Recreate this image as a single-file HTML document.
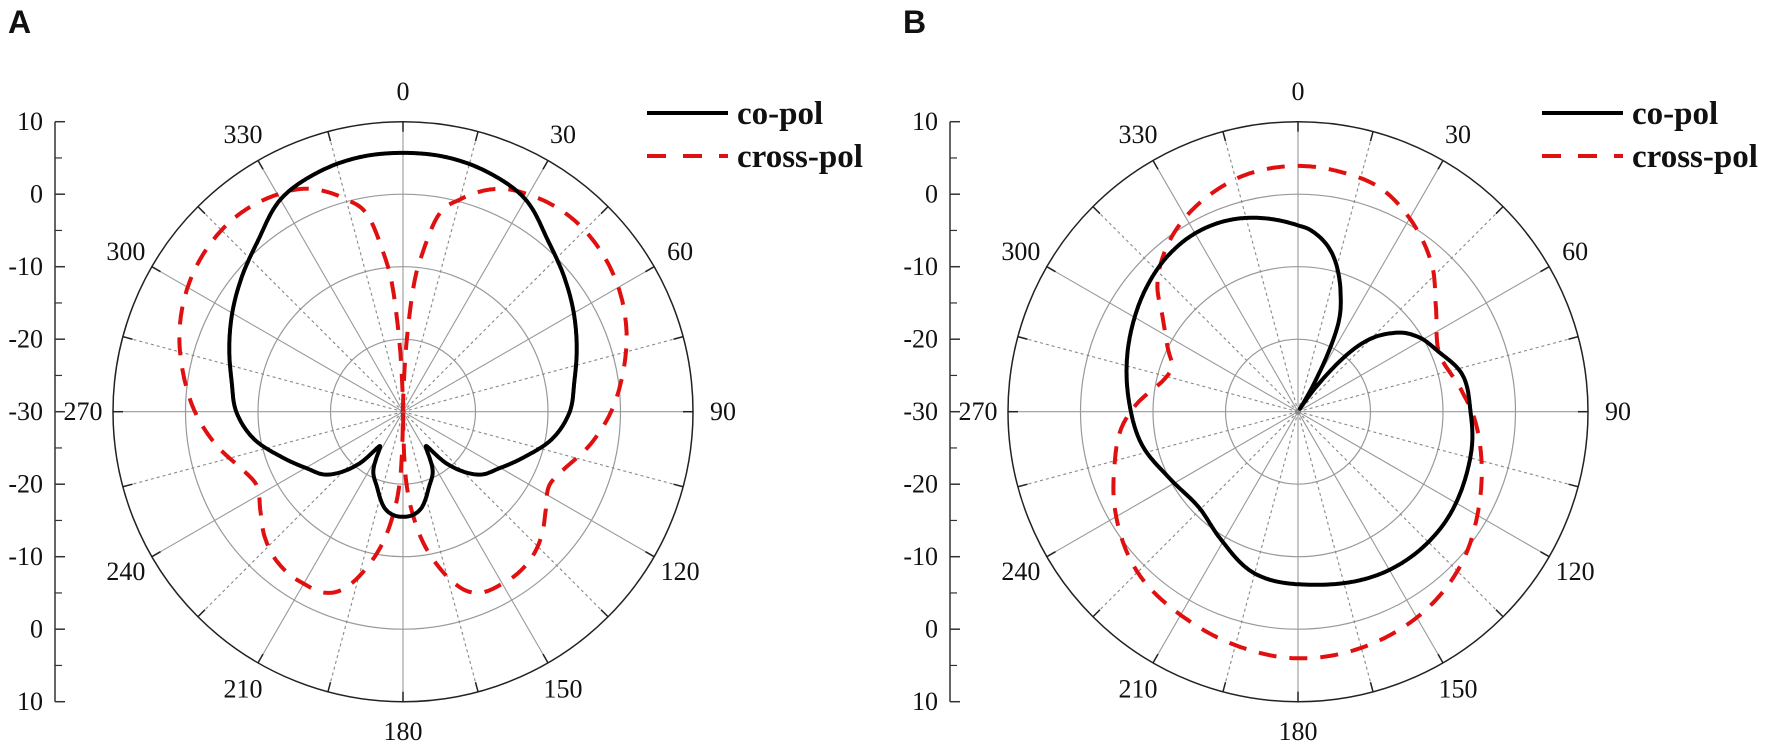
<!DOCTYPE html>
<html><head><meta charset="utf-8">
<style>
html,body{margin:0;padding:0;background:#fff;}
svg{display:block;}
text{font-family:"Liberation Serif",serif;fill:#111;}
.panel{font-family:"Liberation Sans",sans-serif;font-weight:bold;font-size:32px;}
.leg{font-weight:bold;font-size:33px;}
</style></head>
<body>
<svg id="chart" width="1772" height="751" viewBox="0 0 1772 751" xmlns="http://www.w3.org/2000/svg"></svg>
<script>
// ---- data ----
const ringValues = [-20, -10, 0];
const axisTickLabels = ["10","0","-10","-20","-30","-20","-10","0","10"];
const angleLabels = [0,30,60,90,120,150,180,210,240,270,300,330];

// Panel A (left half, mirrored)
const aCoAnglesHalf = [180,190,199,207,214,220,230,240,250,260,270,280,290,300,310,320,330,340,350,0];
const aCoValuesHalf = [-15.5,-16.3,-19,-21,-24.3,-20.7,-16.5,-14.5,-12,-9,-7,-6,-4.5,-2.8,-1,1,3.8,5,5.6,5.7];
const aXAnglesHalf = [180,182,186,193,200,211,220,228,235,243,250,260,270,280,290,300,310,320,330,337,345,350,353,355,357,0];
const aXValuesHalf = [-30,-22,-15,-8,-3.6,-2.6,-3,-4.3,-6,-7.4,-6.5,-3.8,-1.3,0.8,2.8,4.3,5.2,5.4,4.6,3.4,0.3,-2.7,-8,-12,-20,-30];

// Panel B
const bCoAngles = [0,4,12,20,25,30,33,36,42,51,58,67,77,90,100,108,129,150,174,195,211,226,243,258,274,297,310,320,330,340,350];
const bCoValues = [-4.3,-4.9,-7.6,-12.8,-17.2,-26,-29.5,-26,-18.1,-12.7,-10.5,-8.9,-6.8,-6.2,-5.6,-5.3,-4.6,-4.8,-6,-6.9,-9.4,-11,-10,-8,-6.6,-4.3,-2.9,-2.0,-1.6,-1.9,-2.9];
const bXAngles = [0,10,20,30,43,52,67,83,90,107,119,133,148,167,181,194,208,225,242,253,265,272,283,290,295,305,312,322,330,340,348];
const bXValues = [3.9,3.6,2.9,0.8,-2.8,-5.9,-8.9,-7.2,-6,-3.5,-1.6,0.8,2.6,3.8,4,3.4,2.5,1.3,-1.4,-3.5,-5.6,-7.5,-10.9,-11.5,-10.3,-7.2,-3.9,-0.8,1,2.6,3.5];

// ---- geometry ----
const NS = "http://www.w3.org/2000/svg";
const svg = document.getElementById('chart');
const R = 290, DBMIN = -30, DBMAX = 10;
function rScale(db){ return (Math.max(DBMIN, db) - DBMIN) / (DBMAX - DBMIN) * R; }
function pt(cx, cy, ang, r){ const a = ang*Math.PI/180; return [cx + r*Math.sin(a), cy - r*Math.cos(a)]; }
function mk(tag, attrs, parent){ const e = document.createElementNS(NS, tag); for (const k in attrs) e.setAttribute(k, attrs[k]); (parent||svg).appendChild(e); return e; }

function mirror(angs, vals){
  const A = [], V = [];
  for (let i=0;i<angs.length;i++){ A.push(angs[i]); V.push(vals[i]); }
  for (let i=angs.length-2;i>=1;i--){ A.push((360-angs[i])%360); V.push(vals[i]); }
  return [A, V];
}
// Cubic Hermite interpolation in (angle, dB) space, closed loop, sampled densely
function closedPath(cx, cy, angs, vals){
  const idx = angs.map((a,i)=>i).sort((i,j)=>angs[i]-angs[j]);
  const A = idx.map(i=>angs[i]), V = idx.map(i=>vals[i]);
  const n = A.length;
  const ang = k => A[((k%n)+n)%n] + 360*Math.floor(k/n);
  const val = k => V[((k%n)+n)%n];
  const slope = k => {
    const s1 = (val(k)-val(k-1))/(ang(k)-ang(k-1));
    const s2 = (val(k+1)-val(k))/(ang(k+1)-ang(k));
    return (s1+s2)/2;
  };
  let d = "";
  for (let i=0;i<n;i++){
    const a0=ang(i), a1=ang(i+1), v0=val(i), v1=val(i+1);
    const h=a1-a0, m0=slope(i)*h, m1=slope(i+1)*h;
    const steps = Math.max(2, Math.ceil(h*2));
    for (let s=0; s<steps; s++){
      const t=s/steps, t2=t*t, t3=t2*t;
      const v=(2*t3-3*t2+1)*v0+(t3-2*t2+t)*m0+(-2*t3+3*t2)*v1+(t3-t2)*m1;
      const p = pt(cx, cy, a0+t*h, rScale(v));
      d += (d ? "L" : "M") + p[0].toFixed(1) + "," + p[1].toFixed(1);
    }
  }
  return d + "Z";
}

function panel(ox, label, coA, coV, xA, xV){
  const cx = ox + 403, cy = 411.7, ax = ox + 55;
  const g = mk('g', {});
  
  
  const pl = mk('text', {x: ox+8, y: 33, class: 'panel'}, g);
  
  
  pl.textContent = label;

  const axg = mk('g', {}, g);
  
  
  mk('line', {x1: ax, y1: cy-R, x2: ax, y2: cy+R, stroke: '#333', 'stroke-width': 1.5}, axg);
  axisTickLabels.forEach((t,i)=>{
    const y = cy - R + i*(R/4);
    mk('line', {x1: ax, y1: y, x2: ax+10, y2: y, stroke: '#333', 'stroke-width': 1.5}, axg);
    if (i<8) mk('line', {x1: ax, y1: y+R/8, x2: ax+7, y2: y+R/8, stroke: '#333', 'stroke-width': 1.2}, axg);
    const tx = mk('text', {x: ax-12, y: y, 'text-anchor': 'end', 'dominant-baseline': 'central', 'font-size': 26}, axg);
    
    
    tx.textContent = t;
  });

  const gg = mk('g', {}, g);
  
  
  ringValues.forEach(v=> mk('circle', {cx, cy, r: rScale(v), fill: 'none', stroke: '#999', 'stroke-width': 1.2}, gg));
  for (let a=0; a<360; a+=15){
    const e = pt(cx, cy, a, R);
    const l = mk('line', {x1: cx, y1: cy, x2: e[0], y2: e[1], stroke: a%30===0 ? '#999' : '#888', 'stroke-width': 1.1}, gg);
    if (a%30!==0) l.setAttribute('stroke-dasharray', '3,3');
    const t1 = pt(cx, cy, a, R-10);
    mk('line', {x1: t1[0], y1: t1[1], x2: e[0], y2: e[1], stroke: '#222', 'stroke-width': 1.5}, gg);
  }
  mk('circle', {cx, cy, r: R, fill: 'none', stroke: '#222', 'stroke-width': 1.5}, gg);
  mk('circle', {cx, cy, r: 3, fill: '#888'}, gg);
  angleLabels.forEach(a=>{
    const p = pt(cx, cy, a, 320);
    const t = mk('text', {x: p[0], y: p[1], 'text-anchor': 'middle', 'dominant-baseline': 'central', 'font-size': 26}, gg);
    
    
    t.textContent = a;
  });

  const cross = mk('path', {d: closedPath(cx, cy, xA, xV), fill: 'none', stroke: '#e01010', 'stroke-width': 4, 'stroke-dasharray': '18,13'}, g);
  
  
  const co = mk('path', {d: closedPath(cx, cy, coA, coV), fill: 'none', stroke: '#000', 'stroke-width': 4, 'stroke-linejoin': 'round'}, g);
  
  

  const lg = mk('g', {}, g);
  
  
  mk('line', {x1: ox+647, y1: 113, x2: ox+728, y2: 113, stroke: '#000', 'stroke-width': 4}, lg);
  mk('line', {x1: ox+647, y1: 156, x2: ox+728, y2: 156, stroke: '#e01010', 'stroke-width': 4, 'stroke-dasharray': '19,17'}, lg);
  const t1 = mk('text', {x: ox+737, y: 114, 'dominant-baseline': 'central', class: 'leg'}, lg);
  
  
  t1.textContent = 'co-pol';
  const t2 = mk('text', {x: ox+737, y: 157, 'dominant-baseline': 'central', class: 'leg'}, lg);
  
  
  t2.textContent = 'cross-pol';
}

const [aCoA, aCoV] = mirror(aCoAnglesHalf, aCoValuesHalf);
const [aXA, aXV] = mirror(aXAnglesHalf, aXValuesHalf);
panel(0, 'A', aCoA, aCoV, aXA, aXV);
panel(895, 'B', bCoAngles, bCoValues, bXAngles, bXValues);
</script>
</body></html>
